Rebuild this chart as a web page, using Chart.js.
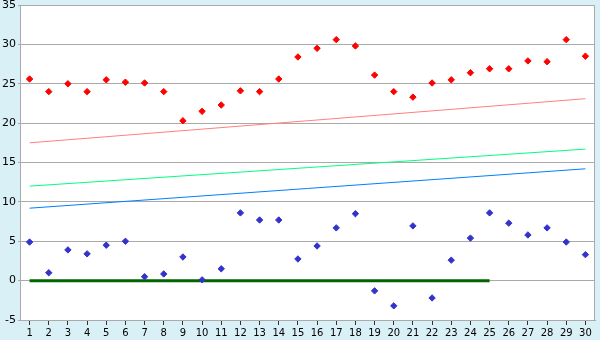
<!DOCTYPE html>
<html>
<head>
<meta charset="utf-8">
<script src="https://cdn.jsdelivr.net/npm/chart.js@4"></script>
<style>
	html, body { margin: 0; padding: 0; background: #daf0f7; }
	canvas { display: block; }
</style>
</head>
<body>
<canvas id="chart" width="600" height="340"></canvas>
<script>
const days = ["1", "2", "3", "4", "5", "6", "7", "8", "9", "10", "11", "12", "13", "14", "15", "16", "17", "18", "19", "20", "21", "22", "23", "24", "25", "26", "27", "28", "29", "30"];
const highValues = [25.6, 24.0, 25.0, 24.0, 25.5, 25.2, 25.1, 24.0, 20.3, 21.5, 22.3, 24.1, 24.0, 25.6, 28.4, 29.5, 30.6, 29.8, 26.1, 24.0, 23.3, 25.1, 25.5, 26.4, 26.9, 26.9, 27.9, 27.8, 30.6, 28.5];
const lowValues = [4.9, 1.0, 3.9, 3.4, 4.5, 5.0, 0.5, 0.85, 3.0, 0.1, 1.5, 8.6, 7.7, 7.7, 2.75, 4.4, 6.7, 8.5, -1.3, -3.2, 6.95, -2.2, 2.6, 5.4, 8.6, 7.3, 5.8, 6.7, 4.9, 3.3];
// trend lines: value at day 1 and day 30
const upperTrend = [17.5, 23.1];
const middleTrend = [12.0, 16.7];
const lowerTrend = [9.2, 14.2];
// zero line from day 1 to day 25
const zeroLine = [{ day: "1", value: 0 }, { day: "25", value: 0 }];
const yTicks = [-5, 0, 5, 10, 15, 20, 25, 30, 35];

const ends = (pair) => [
	{ x: days[0], y: pair[0] },
	{ x: days[days.length - 1], y: pair[1] }
];

const plotBackground = {
	id: "plotBackground",
	beforeDraw: (chart) => {
		const { ctx, chartArea: a } = chart;
		ctx.save();
		ctx.fillStyle = "#ffffff";
		ctx.fillRect(a.left, a.top, a.right - a.left, a.bottom - a.top);
		ctx.restore();
	},
	afterDraw: (chart) => {
		const { ctx, chartArea: a } = chart;
		ctx.save();
		ctx.strokeStyle = "#aaaaaa";
		ctx.lineWidth = 1;
		ctx.strokeRect(a.left + 0.5, a.top + 0.5, a.right - a.left - 1, a.bottom - a.top);
		ctx.restore();
	}
};

const pointSet = (data, color) => ({
	data: data,
	showLine: false,
	pointStyle: "rectRot",
	pointRadius: 3.2,
	pointBackgroundColor: color,
	pointBorderColor: color,
	pointBorderWidth: 1
});

const lineSet = (data, color, width) => ({
	data: data,
	borderColor: color,
	borderWidth: width,
	pointRadius: 0,
	spanGaps: true,
	tension: 0
});

new Chart(document.getElementById("chart"), {
	type: "line",
	data: {
		labels: days,
		datasets: [
			pointSet(highValues, "#ff0000"),
			pointSet(lowValues, "#3333cc"),
			lineSet(zeroLine.map((p) => ({ x: p.day, y: p.value })), "#006400", 3),
			lineSet(ends(upperTrend), "#ff8080", 1),
			lineSet(ends(middleTrend), "#00ff80", 1),
			lineSet(ends(lowerTrend), "#0080ff", 1)
		]
	},
	options: {
		responsive: false,
		animation: false,
		devicePixelRatio: 1,
		layout: { padding: { top: 5, right: 5, left: 0, bottom: 0 } },
		plugins: {
			legend: { display: false },
			tooltip: { enabled: false }
		},
		scales: {
			x: {
				type: "category",
				offset: true,
				afterFit: (scale) => { scale.height = 20; scale.paddingLeft = 0; scale.paddingRight = 0; },
				grid: { drawOnChartArea: false, tickLength: 5, color: "#333333" },
				border: { color: "#aaaaaa" },
				ticks: {
					color: "#000000",
					padding: 2,
					maxRotation: 0,
					autoSkip: false,
					font: { family: "DejaVu Sans", size: 10 }
				}
			},
			y: {
				min: -5,
				max: 35,
				afterFit: (scale) => { scale.width = 20; scale.paddingTop = 0; scale.paddingBottom = 0; },
				afterBuildTicks: (scale) => { scale.ticks = yTicks.map((v) => ({ value: v })); },
				grid: { color: "#aaaaaa", tickLength: 2 },
				border: { color: "#aaaaaa" },
				ticks: {
					color: "#000000",
					padding: 2,
					font: { family: "DejaVu Sans", size: 11 }
				}
			}
		}
	},
	plugins: [plotBackground]
});
</script>
</body>
</html>
